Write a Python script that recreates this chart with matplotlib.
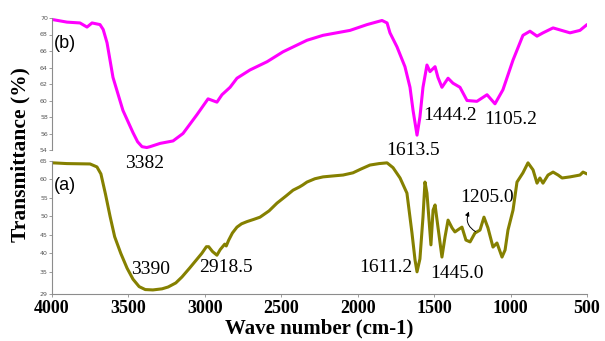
import matplotlib
matplotlib.use('Agg')
import matplotlib.pyplot as plt

# sample (b), upper trace
wn_b = [3993, 3902, 3817, 3771, 3738, 3686, 3665, 3640, 3601, 3536, 3470, 3440,
        3411, 3380, 3359, 3293, 3208, 3143, 3051, 2979, 2921, 2888, 2835, 2790,
        2705, 2593, 2489, 2332, 2227, 2050, 1939, 1841, 1808, 1789, 1743, 1691,
        1658, 1638, 1612, 1593, 1573, 1547, 1527, 1494, 1475, 1449, 1409, 1377,
        1331, 1285, 1220, 1154, 1102, 1050, 984, 919, 873, 827, 788, 722, 611,
        546, 500]
t_b = [69.8, 69.5, 69.4, 68.9, 69.4, 69.2, 68.6, 67.0, 62.8, 58.8, 56.1, 55.0,
       54.4, 54.3, 54.4, 54.8, 55.1, 56.0, 58.3, 60.2, 59.8, 60.7, 61.6, 62.7,
       63.7, 64.7, 65.9, 67.3, 67.9, 68.5, 69.2, 69.7, 69.4, 68.2, 66.5, 64.1,
       61.6, 58.8, 55.8, 58.0, 61.6, 64.3, 63.5, 64.1, 62.8, 61.6, 62.7, 62.1,
       61.6, 60.0, 59.9, 60.7, 59.6, 61.3, 64.9, 67.9, 68.4, 67.8, 68.2, 68.8,
       68.2, 68.5, 69.2]

# sample (a), lower trace
wn_a = [3993, 3902, 3751, 3706, 3680, 3650, 3620, 3590, 3550, 3509, 3470, 3430,
        3390, 3340, 3280, 3240, 3190, 3150, 3100, 3060, 3020, 2990, 2975, 2950,
        2921, 2900, 2870, 2860, 2845, 2820, 2790, 2760, 2724, 2680, 2639, 2580,
        2528, 2470, 2423, 2380, 2360, 2332, 2280, 2227, 2150, 2096, 2031, 1980,
        1920, 1860, 1808, 1769, 1723, 1678, 1645, 1625, 1612, 1593, 1573, 1560,
        1547, 1521, 1507, 1494, 1475, 1449, 1429, 1409, 1383, 1364, 1340, 1318,
        1292, 1265, 1233, 1200, 1174, 1148, 1115, 1089, 1056, 1036, 1017, 984,
        958, 919, 886, 853, 827, 808, 788, 755, 722, 689, 663, 611, 546, 526, 500]
t_a = [64.5, 64.3, 64.2, 63.4, 61.5, 56.0, 50.0, 44.5, 40.0, 36.0, 33.0, 31.0,
       30.2, 30.1, 30.4, 30.9, 32.0, 33.6, 36.0, 38.0, 40.0, 41.8, 41.8, 40.5,
       39.5, 41.0, 42.5, 42.0, 43.5, 45.5, 47.1, 48.0, 48.6, 49.2, 49.8, 51.5,
       53.6, 55.5, 57.1, 58.0, 58.5, 59.3, 60.2, 60.7, 61.0, 61.2, 61.8, 62.8,
       63.9, 64.3, 64.5, 63.2, 60.4, 56.3, 45.5, 38.2, 35.0, 38.5, 49.8, 59.3,
       56.3, 42.3, 51.7, 53.1, 47.1, 39.0, 44.4, 49.0, 46.9, 45.8, 46.5, 47.1,
       43.6, 43.1, 45.5, 46.3, 49.8, 46.9, 41.7, 42.8, 39.0, 40.9, 46.3, 51.7,
       59.3, 61.8, 64.5, 62.6, 59.0, 60.4, 59.0, 61.2, 62.0, 61.2, 60.4, 60.7,
       61.2, 62.0, 61.5]

xticks = [4000, 3500, 3000, 2500, 2000, 1500, 1000, 500]
yticks_b = [54, 56, 58, 60, 62, 64, 66, 68, 70]
yticks_a = [29, 35, 40, 45, 50, 55, 60, 65]

# peak labels: (text, x px, y px) in the picture
labels = [('3382', 145, 163), ('1613.5', 413, 150), ('1444.2', 450, 116),
          ('1105.2', 511, 119), ('3390', 151, 270), ('2918.5', 226, 268),
          ('1611.2', 386, 268), ('1445.0', 457, 273), ('1205.0', 487, 198)]

W, H = 605, 341
fig = plt.figure(figsize=(W / 100, H / 100), dpi=100)
serif = 'Liberation Serif'
spine_col = '#8c8c8c'

ax_b = fig.add_axes([52 / W, 1 - 150 / H, 535 / W, 132 / H])
ax_a = fig.add_axes([52 / W, 1 - 294 / H, 535 / W, 133 / H], sharex=ax_b)

ax_b.plot(wn_b, t_b, color='#ff00ff', lw=2.2, solid_joinstyle='round',
          solid_capstyle='round')
ax_a.plot(wn_a, t_a, color='#858000', lw=2.2, solid_joinstyle='round',
          solid_capstyle='round')

ax_a.set_xlim(4000, 500)
ax_b.set_ylim(54, 70)
ax_a.set_ylim(29, 65)

for ax, yt in ((ax_b, yticks_b), (ax_a, yticks_a)):
    ax.set_yticks(yt)
    ax.set_yticklabels([str(v) for v in yt], fontsize=4.5, color='#555555')
    ax.tick_params(axis='y', length=2.5, width=0.6, color=spine_col, pad=0.5)
    for s in ('top', 'right'):
        ax.spines[s].set_visible(False)
    ax.spines['left'].set_color(spine_col)
    ax.spines['left'].set_linewidth(0.8)
    ax.patch.set_alpha(0)

ax_b.spines['bottom'].set_visible(False)
ax_b.tick_params(axis='x', bottom=False, labelbottom=False)

ax_a.spines['bottom'].set_color(spine_col)
ax_a.spines['bottom'].set_linewidth(0.8)
ax_a.set_xticks(xticks)
ax_a.set_xticklabels([str(v) for v in xticks], fontsize=13, fontweight='bold',
                     family=serif)
ax_a.tick_params(axis='x', length=2.5, width=0.6, color=spine_col, pad=2)
ax_a.set_xlabel('Wave number (cm-1)', fontsize=15, fontweight='bold',
                family=serif, labelpad=1)

fig.text(20 / W, 1 - 155 / H, 'Transmittance (%)', rotation=90, fontsize=15.5,
         fontweight='bold', family=serif, ha='center', va='center')

fig.text(65 / W, 1 - 43 / H, '(b)', fontsize=13, family='Liberation Sans',
         ha='center', va='center')
fig.text(65 / W, 1 - 185 / H, '(a)', fontsize=13, family='Liberation Sans',
         ha='center', va='center')

for txt, x, y in labels:
    fig.text(x / W, 1 - y / H, txt, fontsize=14, family=serif,
             ha='center', va='center')

# curved arrow pointing at the 1205.0 label
ax_a.annotate('', xy=(1265, 52.0), xytext=(1213, 45.5),
              arrowprops=dict(arrowstyle='-|>', color='black', lw=0.7,
                              mutation_scale=6,
                              connectionstyle='arc3,rad=-0.5'))

fig.savefig('out.png', dpi=100, facecolor='white')
